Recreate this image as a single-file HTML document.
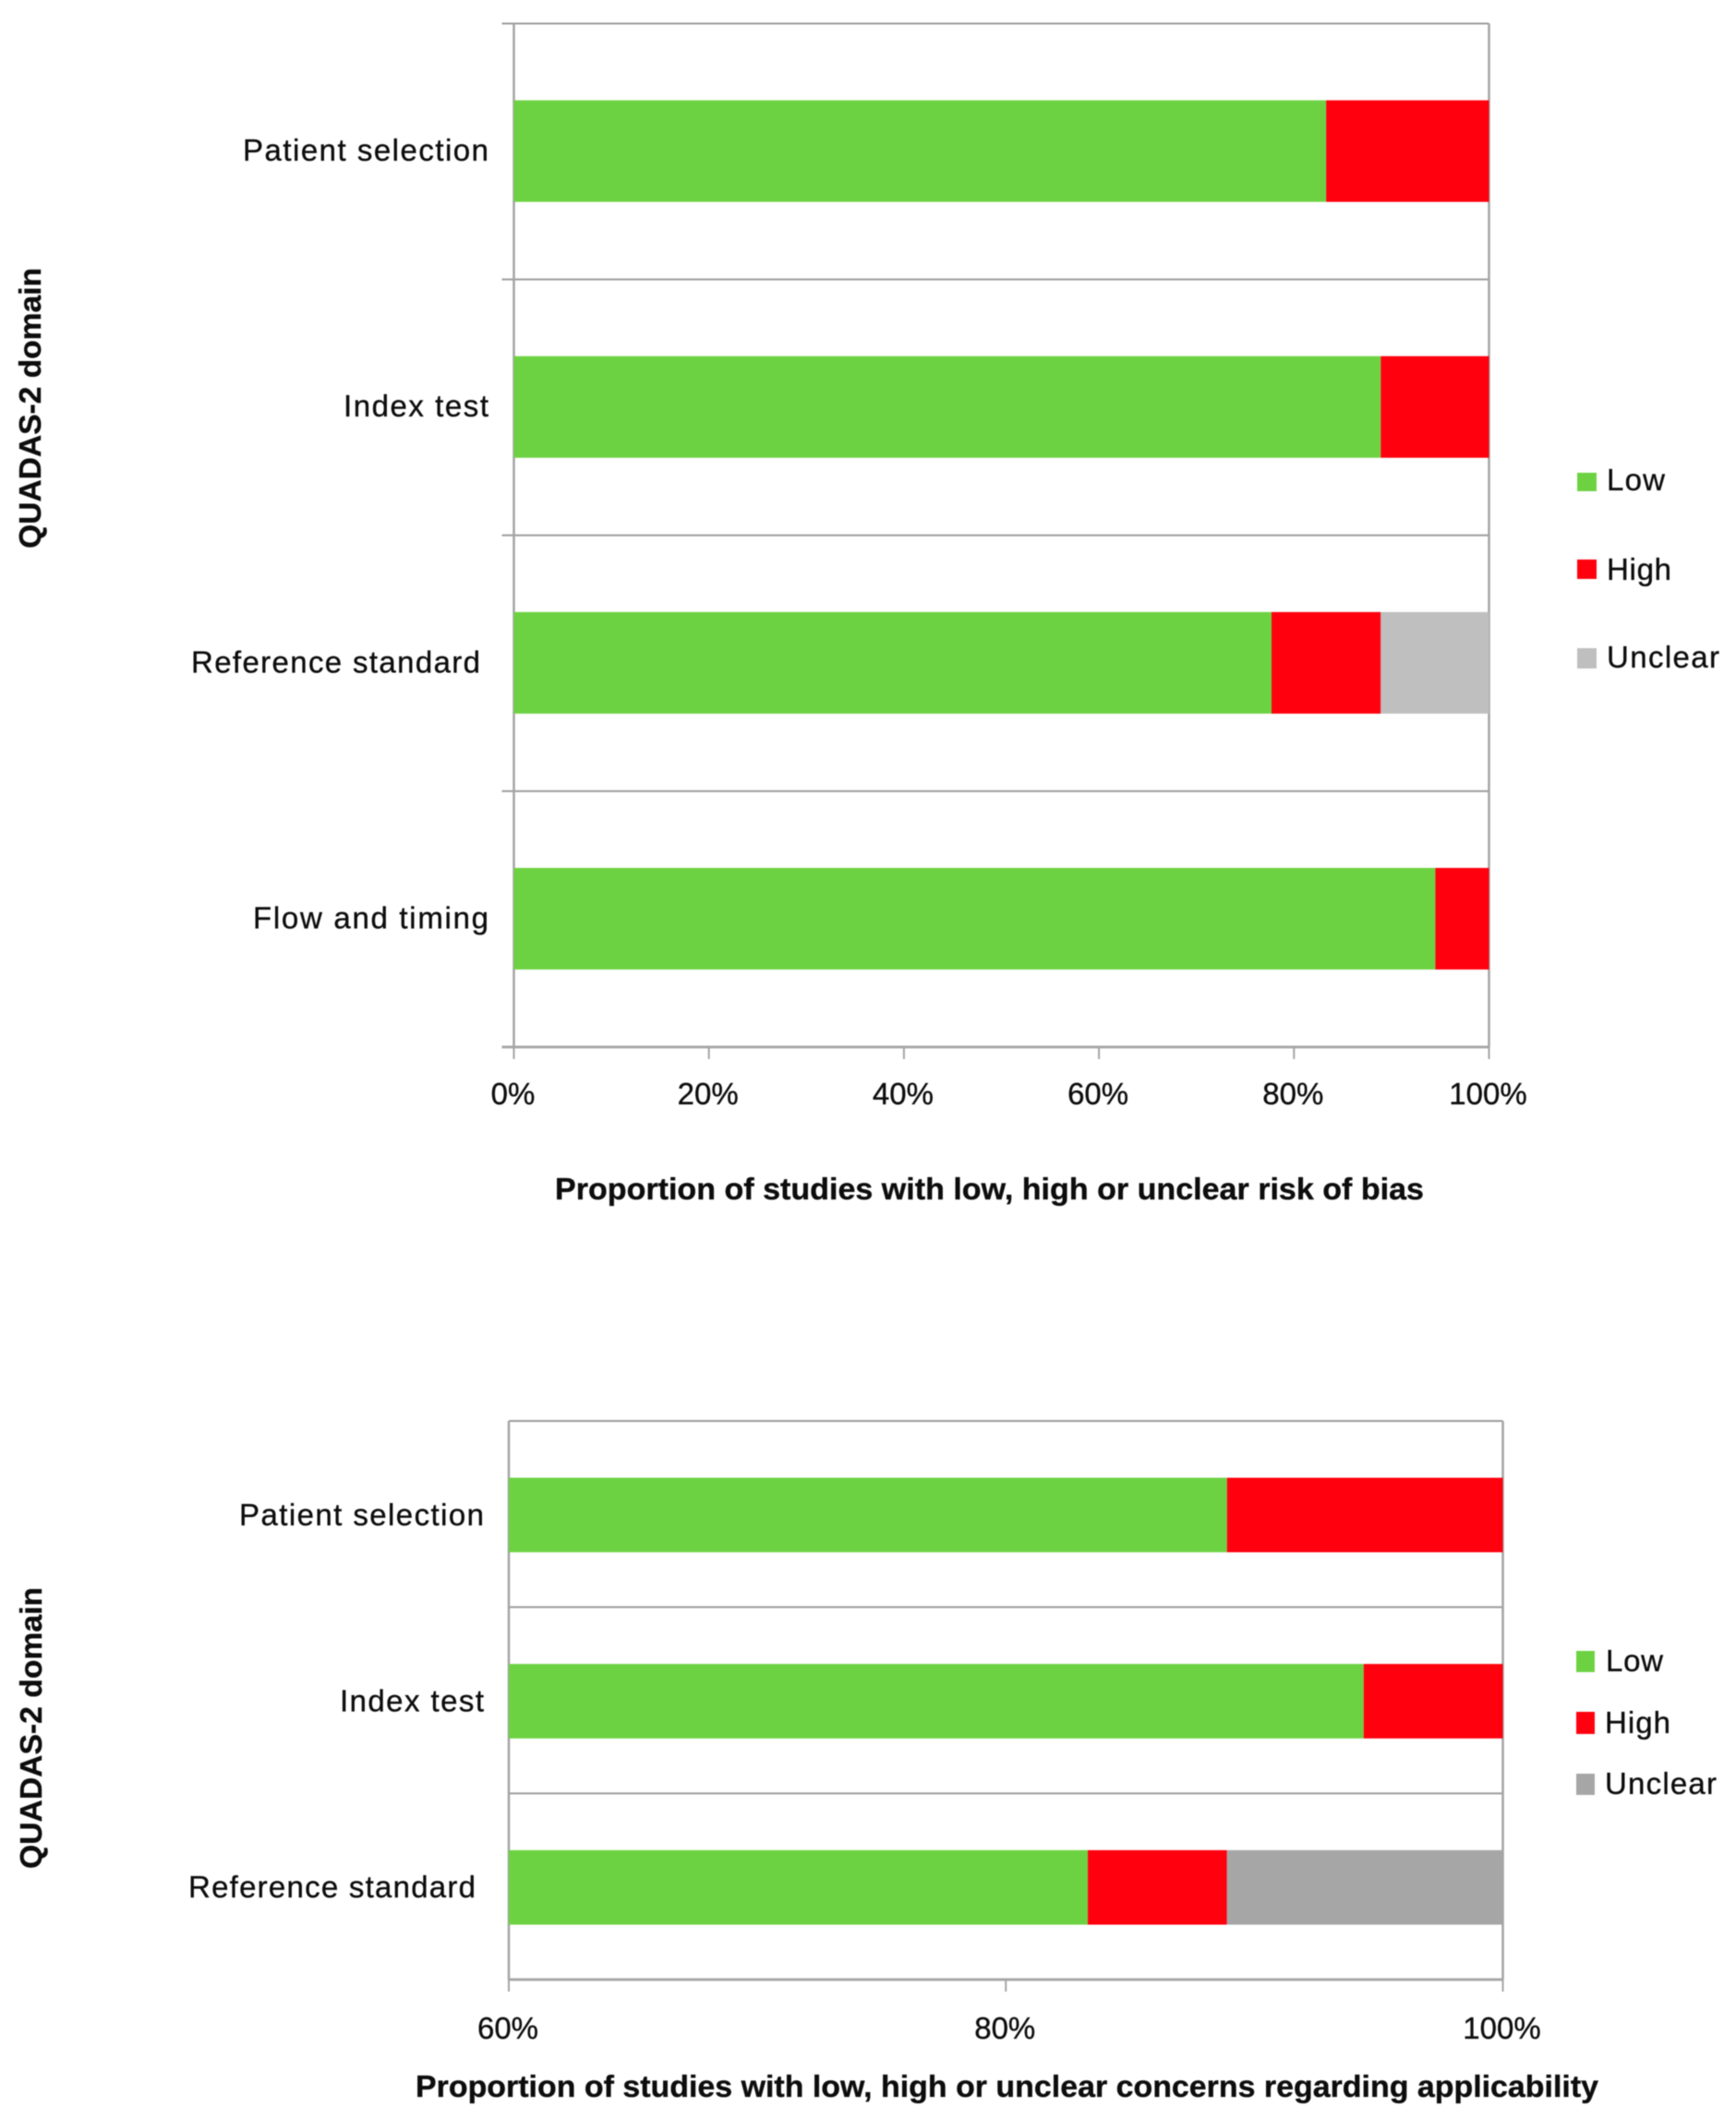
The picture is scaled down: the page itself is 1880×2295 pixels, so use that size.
<!DOCTYPE html>
<html lang="en">
<head>
<meta charset="utf-8">
<title>QUADAS-2 risk of bias and applicability charts</title>
<style>
  html, body { margin: 0; padding: 0; background: #fff; }
  body { width: 1880px; height: 2295px; overflow: hidden; }
  svg { display: block; font-family: "Liberation Sans", sans-serif; }
  .blurred { filter: blur(0.5px); }
  text { fill: #0d0d0d; stroke: #0d0d0d; stroke-width: 0.35px; }
  .bold { font-weight: 700; font-size: 33px; }
  .tick { font-size: 33px; text-anchor: middle; }
  .cat { font-size: 33px; }
  .leg { font-size: 33px; }
</style>
</head>
<body>
<svg id="figure" class="blurred" xmlns="http://www.w3.org/2000/svg" width="1880" height="2295" viewBox="0 0 1880 2295">
  <rect width="1880" height="2295" fill="#fff"/>
  <g id="chart-bias">
    <text class="bold" transform="translate(44 594) rotate(-90)" textLength="304" lengthAdjust="spacingAndGlyphs">QUADAS-2 domain</text>
    <text class="bold" x="601" y="1299" textLength="941" lengthAdjust="spacingAndGlyphs">Proportion of studies with low, high or unclear risk of bias</text>
    <g>
      <g>
        <rect x="1708" y="512" width="21" height="20" fill="#6dd242"/>
        <text class="leg" x="1740" y="531" textLength="63">Low</text>
      </g>
      <g>
        <rect x="1708" y="606" width="21" height="21" fill="#ff000e"/>
        <text class="leg" x="1740" y="628" textLength="70">High</text>
      </g>
      <g>
        <rect x="1708" y="702" width="21" height="22" fill="#bfbfbf"/>
        <text class="leg" x="1740" y="723" textLength="122">Unclear</text>
      </g>
    </g>
  </g>
  <g id="chart-applicability">
    <text class="bold" transform="translate(45 2024) rotate(-90)" textLength="305" lengthAdjust="spacingAndGlyphs">QUADAS-2 domain</text>
    <text class="bold" x="450" y="2271" textLength="1281" lengthAdjust="spacingAndGlyphs">Proportion of studies with low, high or unclear concerns regarding applicability</text>
    <g>
      <g>
        <rect x="1707" y="1788" width="20" height="23" fill="#6dd242"/>
        <text class="leg" x="1739" y="1810" textLength="62">Low</text>
      </g>
      <g>
        <rect x="1707" y="1854" width="20" height="24" fill="#ff000e"/>
        <text class="leg" x="1738" y="1877" textLength="71">High</text>
      </g>
      <g>
        <rect x="1707" y="1921" width="20" height="23" fill="#a6a6a6"/>
        <text class="leg" x="1738" y="1943" textLength="121">Unclear</text>
      </g>
    </g>
  </g>
</svg>
<script>
// Chart 1: risk of bias (percent of studies)
const biasCategories = ["Patient selection", "Index test", "Reference standard", "Flow and timing"];
const biasLow = [83.3, 88.9, 77.7, 94.5];
const biasHigh = [16.7, 11.1, 11.2, 5.5];
const biasUnclear = [0, 0, 11.1, 0];
const biasTicks = [0, 20, 40, 60, 80, 100];

// Chart 2: applicability concerns (percent of studies)
const applicCategories = ["Patient selection", "Index test", "Reference standard"];
const applicLow = [88.9, 94.4, 83.3];
const applicHigh = [11.1, 5.6, 5.6];
const applicUnclear = [0, 0, 11.1];
const applicTicks = [60, 80, 100];

const NS = "http://www.w3.org/2000/svg";

function make(tag, parent, attrs) {
  const el = document.createElementNS(NS, tag);
  for (const k in attrs) el.setAttribute(k, attrs[k]);
  parent.appendChild(el);
  return el;
}

function drawChart(cfg) {
  const root = document.getElementById(cfg.id);
  const xScale = v => cfg.left + (v - cfg.min) / (cfg.max - cfg.min) * (cfg.right - cfg.left);
  const band = (cfg.bottom - cfg.top) / cfg.categories.length;
  const yBand = i => cfg.top + i * band;
  const lineColor = "#9c9c9c";

  // Plot frame and category separators
  for (let i = 0; i <= cfg.categories.length; i++) {
    const y = yBand(i);
    const isAxis = i === cfg.categories.length;
    const line = make("line", root, {
      x1: cfg.left - cfg.catTick, x2: cfg.right, y1: y, y2: y,
      stroke: isAxis ? "#a8a8a8" : lineColor, "stroke-width": isAxis ? 3 : 2
    });
    
    
  }
  const leftAxis = make("line", root, { x1: cfg.left, x2: cfg.left, y1: cfg.top, y2: cfg.bottom, stroke: "#a4a4a4", "stroke-width": 2.5 });
  
  
  const rightAxis = make("line", root, { x1: cfg.right, x2: cfg.right, y1: cfg.top, y2: cfg.bottom, stroke: "#a4a4a4", "stroke-width": 2.5 });
  
  

  // Stacked bars
  cfg.categories.forEach((name, i) => {
    const y = yBand(i) + band * cfg.barOffset;
    const h = band * cfg.barSize;
    let acc = 0;
    [
      { label: "low", values: cfg.low, color: "#6dd242" },
      { label: "high", values: cfg.high, color: "#ff000e" },
      { label: "unclear", values: cfg.unclear, color: cfg.unclearColor }
    ].forEach(series => {
      const start = acc;
      acc += series.values[i];
      if (series.values[i] <= 0) return;
      const x0 = xScale(Math.max(start, cfg.min));
      const x1 = xScale(Math.min(acc, cfg.max));
      const bar = make("rect", root, { x: x0, y: y, width: Math.max(0, x1 - x0), height: h, fill: series.color });
      
      
    });

    const layout = cfg.catLayout[name];
    const label = make("text", root, {
      class: "cat", x: layout[0], y: yBand(i) + band / 2 + cfg.catDy, textLength: layout[1]
    });
    
    
    label.textContent = name;
  });

  // Value axis ticks and labels
  cfg.ticks.forEach(t => {
    const x = xScale(t);
    const tick = make("line", root, { x1: x, x2: x, y1: cfg.bottom, y2: cfg.bottom + 13, stroke: "#a4a4a4", "stroke-width": 2 });
    
    
    const label = make("text", root, { class: "tick", x: x - 1, y: cfg.tickBaseline });
    
    
    label.textContent = t + "%";
  });
}

drawChart({
  id: "chart-bias",
  categories: biasCategories, low: biasLow, high: biasHigh, unclear: biasUnclear, ticks: biasTicks,
  min: 0, max: 100, left: 556.5, right: 1612.5, top: 25.5, bottom: 1134,
  barOffset: 0.3, barSize: 0.397, catTick: 13, catDy: 10, tickBaseline: 1196, unclearColor: "#bfbfbf",
  catLayout: {
    "Patient selection": [263, 266],
    "Index test": [372, 157],
    "Reference standard": [207, 313],
    "Flow and timing": [274, 255]
  }
});

drawChart({
  id: "chart-applicability",
  categories: applicCategories, low: applicLow, high: applicHigh, unclear: applicUnclear, ticks: applicTicks,
  min: 60, max: 100, left: 551, right: 1627.5, top: 1539, bottom: 2144,
  barOffset: 0.305, barSize: 0.4, catTick: 0, catDy: 12, tickBaseline: 2208, unclearColor: "#a6a6a6",
  catLayout: {
    "Patient selection": [259, 265],
    "Index test": [368, 156],
    "Reference standard": [204, 311]
  }
});
</script>
</body>
</html>
